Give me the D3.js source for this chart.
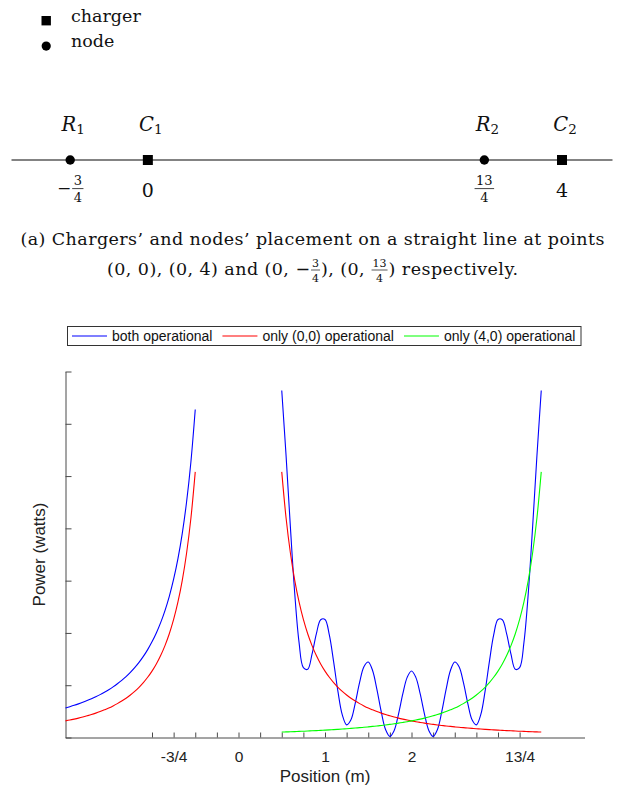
<!DOCTYPE html>
<html><head><meta charset="utf-8">
<script src="https://cdn.jsdelivr.net/npm/d3@7/dist/d3.min.js"></script>
<style>body{margin:0;background:#fff}svg{display:block}</style>
</head><body>
<svg id="c" width="624" height="790"></svg>
<script>
// ---------------- data ----------------
// (a) placement diagram
const keyNames = ["charger", "node"];
const placeKinds = ["node", "charger", "node", "charger"];
const placePos = [-0.75, 0, 3.25, 4];
const placeNames = ["R", "C", "R", "C"];
const placeSubs = ["1", "1", "2", "2"];
const placeTickSign = ["−", "", "", ""];
const placeTickNum = ["3", "0", "13", "4"];
const placeTickDen = ["4", "", "4", ""];
const captionLine1 = "(a) Chargers’ and nodes’ placement on a straight line at points";
const captionLine2Parts = ["(0, 0), (0, 4) and (0, −", "3/4", "), (0, ", "13/4", ") respectively."];

// (b) power chart
const seriesNames = ["both operational", "only (0,0) operational", "only (4,0) operational"];
const xTickValues = [-1, -0.75, -0.5, -0.25, 0, 0.25, 0.5, 0.75, 1, 1.25, 1.5, 1.75, 2, 2.25, 2.5, 2.75, 3, 3.25];
const xTickLabelValues = [-0.75, 0, 1, 2, 3.25];
const xTickLabelTexts = ["-3/4", "0", "1", "2", "13/4"];
const yTickValues = [0, 1, 2, 3, 4, 5, 6, 7];

// left segment (x < 0)
const posLeft = [-2.00,-1.95,-1.90,-1.85,-1.80,-1.75,-1.70,-1.65,-1.60,-1.55,-1.50,-1.45,-1.40,-1.35,-1.30,-1.25,-1.20,-1.15,-1.10,-1.05,-1.00,-0.95,-0.90,-0.85,-0.80,-0.75,-0.70,-0.65,-0.60,-0.55,-0.50];
const bothLeft = [0.564,0.589,0.615,0.643,0.673,0.706,0.741,0.779,0.820,0.865,0.914,0.968,1.028,1.093,1.165,1.246,1.336,1.437,1.551,1.681,1.829,1.999,2.197,2.428,2.701,3.027,3.421,3.905,4.508,5.275,6.272];
const only00Left = [0.318,0.334,0.352,0.371,0.392,0.415,0.439,0.466,0.496,0.529,0.564,0.604,0.648,0.697,0.751,0.813,0.882,0.960,1.050,1.152,1.270,1.407,1.568,1.758,1.984,2.258,2.592,3.006,3.528,4.198,5.080];

// right segment (between the chargers)
const posRight = [0.50,0.55,0.60,0.65,0.70,0.75,0.80,0.85,0.90,0.95,1.00,1.05,1.10,1.15,1.20,1.25,1.30,1.35,1.40,1.45,1.50,1.55,1.60,1.65,1.70,1.75,1.80,1.85,1.90,1.95,2.00,2.05,2.10,2.15,2.20,2.25,2.30,2.35,2.40,2.45,2.50,2.55,2.60,2.65,2.70,2.75,2.80,2.85,2.90,2.95,3.00,3.05,3.10,3.15,3.20,3.25,3.30,3.35,3.40,3.45,3.50];
const bothRight = [6.635,5.388,4.023,2.759,1.819,1.336,1.305,1.593,1.981,2.253,2.258,1.961,1.447,0.877,0.432,0.242,0.340,0.659,1.052,1.355,1.444,1.282,0.920,0.494,0.153,0.021,0.135,0.449,0.837,1.150,1.271,1.150,0.837,0.449,0.135,0.021,0.153,0.494,0.920,1.282,1.444,1.355,1.052,0.659,0.340,0.242,0.432,0.877,1.447,1.961,2.258,2.253,1.981,1.593,1.305,1.336,1.819,2.759,4.023,5.388,6.635];
const only00Right = [5.080,4.198,3.528,3.006,2.592,2.258,1.984,1.758,1.568,1.407,1.270,1.152,1.050,0.960,0.882,0.813,0.751,0.697,0.648,0.604,0.564,0.529,0.496,0.466,0.439,0.415,0.392,0.371,0.352,0.334,0.318,0.302,0.288,0.275,0.262,0.251,0.240,0.230,0.220,0.212,0.203,0.195,0.188,0.181,0.174,0.168,0.162,0.156,0.151,0.146,0.141,0.137,0.132,0.128,0.124,0.120,0.117,0.113,0.110,0.107,0.104];
const only40Right = [0.104,0.107,0.110,0.113,0.117,0.120,0.124,0.128,0.132,0.137,0.141,0.146,0.151,0.156,0.162,0.168,0.174,0.181,0.188,0.195,0.203,0.212,0.220,0.230,0.240,0.251,0.262,0.275,0.288,0.302,0.318,0.334,0.352,0.371,0.392,0.415,0.439,0.466,0.496,0.529,0.564,0.604,0.648,0.697,0.751,0.813,0.882,0.960,1.050,1.152,1.270,1.407,1.568,1.758,1.984,2.258,2.592,3.006,3.528,4.198,5.080];

// ---------------- styles ----------------
const seriesColors = ["#0000ff", "#ff0000", "#00ff00"];
const SERIF = "'DejaVu Serif','Liberation Serif',serif";
const SANS = "'Liberation Sans',Arial,Helvetica,sans-serif";

const svg = d3.select("#c");

// ================= (a) placement diagram =================
// key
const keyG = svg.append("g");
keyNames.forEach((name, i) => {
  const cy = 20.7 + i * 25.4;
  if (name === "charger") {
    keyG.append("rect").attr("x", 41.5).attr("y", cy - 4.7).attr("width", 9.4).attr("height", 9.4).attr("fill", "#000");
  } else {
    keyG.append("circle").attr("cx", 46.2).attr("cy", cy).attr("r", 4.6).attr("fill", "#000");
  }
  keyG.append("text").attr("x", 71).attr("y", cy + 0.8).attr("font-family", SERIF).attr("font-size", 17.5)
    .attr("fill", "#111").text(name);
});

const xTop = d3.scaleLinear().domain([-0.75, 4]).range([70.2, 562]);
const topG = svg.append("g");
topG.append("line").attr("x1", 11.5).attr("x2", 612.5).attr("y1", 160).attr("y2", 160)
  .attr("stroke", "#5a5a5a").attr("stroke-width", 1.3);

placePos.forEach((p, i) => {
  const cx = xTop(p);
  if (placeKinds[i] === "charger") {
    topG.append("rect").attr("x", cx - 5).attr("y", 155).attr("width", 10).attr("height", 10).attr("fill", "#000");
  } else {
    topG.append("circle").attr("cx", cx).attr("cy", 160).attr("r", 4.7).attr("fill", "#000");
  }
  // name label
  const t = topG.append("text").attr("x", cx + 3).attr("y", 130.5).attr("text-anchor", "middle")
    .attr("font-family", SERIF).attr("fill", "#111");
  t.append("tspan").attr("font-style", "italic").attr("font-size", 19.5).text(placeNames[i]);
  t.append("tspan").attr("font-size", 13.5).attr("dy", 3.5).text(placeSubs[i]);

  // position label
  if (placeTickDen[i] === "") {
    topG.append("text").attr("x", cx).attr("y", 196.5).attr("text-anchor", "middle")
      .attr("font-family", SERIF).attr("font-size", 19).attr("fill", "#111").text(placeTickNum[i]);
  } else {
    const g = topG.append("g");
    let signW = 0;
    let sign = null;
    if (placeTickSign[i]) {
      sign = g.append("text").attr("y", 193.5).attr("font-family", SERIF).attr("font-size", 17).attr("fill", "#111").text(placeTickSign[i]);
      signW = sign.node().getComputedTextLength() + 1;
    }
    const num = g.append("text").attr("y", 185).attr("text-anchor", "middle").attr("font-family", SERIF).attr("font-size", 13).attr("fill", "#111").text(placeTickNum[i]);
    const den = g.append("text").attr("y", 201.8).attr("text-anchor", "middle").attr("font-family", SERIF).attr("font-size", 13).attr("fill", "#111").text(placeTickDen[i]);
    const fw = Math.max(num.node().getComputedTextLength(), den.node().getComputedTextLength()) + 3;
    const total = signW + fw;
    const x0 = cx - total / 2;
    if (sign) sign.attr("x", x0);
    num.attr("x", x0 + signW + fw / 2);
    den.attr("x", x0 + signW + fw / 2);
    g.append("line").attr("x1", x0 + signW).attr("x2", x0 + signW + fw).attr("y1", 188.6).attr("y2", 188.6)
      .attr("stroke", "#111").attr("stroke-width", 0.8);
  }
});

// caption
svg.append("text").attr("x", 20.5).attr("y", 245).attr("font-family", SERIF).attr("font-size", 17.5)
  .attr("fill", "#111").attr("textLength", 584).attr("lengthAdjust", "spacing").text(captionLine1);

(function caption2() {
  const baseY = 275;
  const startX = 107, targetW = 411;
  const g = svg.append("g");
  const items = [];
  captionLine2Parts.forEach(part => {
    if (/^\d+\/\d+$/.test(part)) {
      const [n, d] = part.split("/");
      const num = g.append("text").attr("y", baseY - 7.6).attr("text-anchor", "middle").attr("font-family", SERIF).attr("font-size", 11).attr("fill", "#111").text(n);
      const den = g.append("text").attr("y", baseY + 6.6).attr("text-anchor", "middle").attr("font-family", SERIF).attr("font-size", 11).attr("fill", "#111").text(d);
      const w = Math.max(num.node().getComputedTextLength(), den.node().getComputedTextLength()) + 4;
      const bar = g.append("line").attr("y1", baseY - 5).attr("y2", baseY - 5).attr("stroke", "#111").attr("stroke-width", 0.7);
      items.push({w, frac: true, place: (x, w2) => { num.attr("x", x + w2 / 2); den.attr("x", x + w2 / 2); bar.attr("x1", x + 1).attr("x2", x + w2 - 1); }});
    } else {
      const t = g.append("text").attr("y", baseY).attr("font-family", SERIF).attr("font-size", 17.5).attr("fill", "#111")
        .attr("xml:space", "preserve").style("white-space", "pre").text(part);
      const w = t.node().getComputedTextLength();
      items.push({w, frac: false, t, place: (x, w2) => { t.attr("x", x).attr("textLength", w2).attr("lengthAdjust", "spacing"); }});
    }
  });
  const fracW = d3.sum(items.filter(d => d.frac), d => d.w);
  const textW = d3.sum(items.filter(d => !d.frac), d => d.w);
  const f = (targetW - fracW) / textW;
  let x = startX;
  items.forEach(it => { const w2 = it.frac ? it.w : it.w * f; it.place(x, w2); x += w2; });
})();

// ================= (b) power chart =================
const x = d3.scaleLinear().domain([-2, 4]).range([65.5, 584.5]);
const y = d3.scaleLinear().domain([0, 7]).range([737.5, 371.5]);
const axisColor = "#4a4a4a";

const gx = svg.append("g").attr("transform", `translate(0,${y(0)})`)
  .call(d3.axisBottom(x).tickValues(xTickValues).tickSize(-5).tickSizeOuter(0).tickPadding(13)
    .tickFormat(v => { const k = xTickLabelValues.findIndex(u => Math.abs(u - v) < 1e-9); return k >= 0 ? xTickLabelTexts[k] : ""; }));
gx.selectAll("path,line").attr("stroke", axisColor);
gx.selectAll("text").attr("font-family", SANS).attr("font-size", 15.5).attr("fill", "#222");

const gy = svg.append("g").attr("transform", `translate(${x(-2)},0)`)
  .call(d3.axisLeft(y).tickValues(yTickValues).tickSize(-6).tickSizeOuter(0).tickFormat(""));
gy.selectAll("path,line").attr("stroke", axisColor);

svg.append("text").attr("x", (x(-2) + x(4)) / 2).attr("y", 782).attr("text-anchor", "middle")
  .attr("font-family", SANS).attr("font-size", 17).attr("fill", "#222").text("Position (m)");
svg.append("text").attr("transform", `translate(45,${(y(0) + y(7)) / 2}) rotate(-90)`).attr("text-anchor", "middle")
  .attr("font-family", SANS).attr("font-size", 17).attr("fill", "#222").text("Power (watts)");

const line = d3.line().x(d => x(d[0])).y(d => y(d[1])).curve(d3.curveCatmullRom.alpha(0.5));
const zip = (a, b) => a.map((v, i) => [v, b[i]]);
const segments = [
  {s: 0, pts: zip(posLeft, bothLeft)},
  {s: 0, pts: zip(posRight, bothRight)},
  {s: 1, pts: zip(posLeft, only00Left)},
  {s: 1, pts: zip(posRight, only00Right)},
  {s: 2, pts: zip(posRight, only40Right)}
];
svg.append("g").selectAll("path").data(segments).join("path")
  .attr("d", d => line(d.pts)).attr("fill", "none")
  .attr("stroke", d => seriesColors[d.s]).attr("stroke-width", 1.1);

// legend
const lg = svg.append("g");
lg.append("rect").attr("x", 67.5).attr("y", 326.5).attr("width", 513.5).attr("height", 19)
  .attr("fill", "#fff").attr("stroke", "#333").attr("stroke-width", 1);
let lx = 72;
seriesNames.forEach((name, i) => {
  lg.append("line").attr("x1", lx).attr("x2", lx + 35).attr("y1", 336).attr("y2", 336)
    .attr("stroke", seriesColors[i]).attr("stroke-width", 1.1);
  const t = lg.append("text").attr("x", lx + 40).attr("y", 340.5).attr("font-family", SANS)
    .attr("font-size", 14).attr("fill", "#111").text(name);
  lx += 40 + t.node().getComputedTextLength() + 10;
});
</script>
</body></html>
